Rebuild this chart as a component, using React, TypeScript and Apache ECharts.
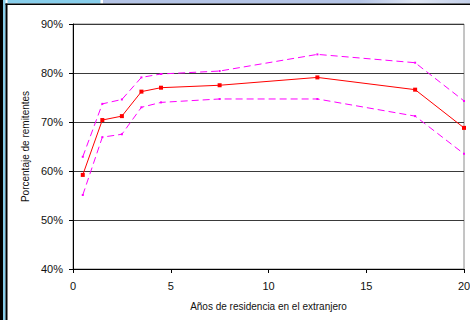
import React, { useEffect, useRef } from "react";
import * as echarts from "echarts";

const years = [0.5, 1.5, 2.5, 3.5, 4.5, 7.5, 12.5, 17.5, 20];
const meanPct = [59.2, 70.4, 71.2, 76.2, 77.0, 77.5, 79.1, 76.6, 68.8];
const upperPct = [62.9, 73.7, 74.6, 79.1, 79.8, 80.4, 83.8, 82.1, 74.3];
const lowerPct = [55.1, 66.9, 67.5, 73.0, 74.0, 74.7, 74.7, 71.2, 63.5];
const yAxisTitle = "Porcentaje de remitentes";
const xAxisTitle = "Años de residencia en el extranjero";

const pairs = (ys: number[]) => years.map((x, i) => [x, ys[i]]);

export default function App() {
  const ref = useRef<HTMLDivElement>(null);
  useEffect(() => {
    if (!ref.current) return;
    const chart = echarts.init(ref.current, null, { renderer: "svg" });
    const font = "Liberation Sans, Arial, sans-serif";
    const dashed = {
      type: "line" as const,
      symbol: "rect",
      symbolSize: 2,
      itemStyle: { color: "#FF00FF" },
      lineStyle: { color: "#FF00FF", width: 1, type: [7, 4] as any },
      z: 2,
    };
    chart.setOption({
      animation: false,
      backgroundColor: "#ffffff",
      textStyle: { fontFamily: font },
      grid: {
        left: 73,
        right: 6,
        top: 24,
        bottom: 51,
        containLabel: false,
        outerBoundsMode: "none",
        show: true,
        borderColor: "#8a8a8a",
        borderWidth: 1,
      },
      xAxis: {
        type: "value",
        min: 0,
        max: 20,
        interval: 5,
        name: xAxisTitle,
        nameLocation: "middle",
        nameGap: 32,
        nameTextStyle: { fontSize: 10, color: "#111", fontFamily: font },
        axisLine: { lineStyle: { color: "#000", width: 1 } },
        axisTick: { show: true, inside: false, length: 4, lineStyle: { color: "#000" } },
        axisLabel: { fontSize: 11, color: "#111", margin: 11, fontFamily: font },
        splitLine: { show: false },
      },
      yAxis: {
        type: "value",
        min: 40,
        max: 90,
        interval: 10,
        name: yAxisTitle,
        nameLocation: "middle",
        nameGap: 33,
        nameTextStyle: { fontSize: 10, color: "#111", fontFamily: font },
        axisLine: { show: true, lineStyle: { color: "#000", width: 1 } },
        axisTick: { show: true, inside: false, length: 4, lineStyle: { color: "#000" } },
        axisLabel: { fontSize: 11, color: "#111", margin: 10, formatter: "{value}%", fontFamily: font },
        splitLine: { show: true, lineStyle: { color: "#3a3a3a", width: 1 } },
      },
      series: [
        { ...dashed, name: "upper", data: pairs(upperPct) },
        { ...dashed, name: "lower", data: pairs(lowerPct) },
        {
          type: "line",
          name: "mean",
          data: pairs(meanPct),
          symbol: "rect",
          symbolSize: 4,
          itemStyle: { color: "#FF0000" },
          lineStyle: { color: "#FF0000", width: 1 },
          z: 3,
        },
      ],
      graphic: [
        { type: "rect", shape: { x: 0, y: 0, width: 3, height: 320 }, style: { fill: "#000" }, silent: true },
        { type: "rect", shape: { x: 3, y: 0, width: 2.5, height: 320 }, style: { fill: "#87CEEB" }, silent: true },
        { type: "rect", shape: { x: 5.5, y: 3.5, width: 2, height: 316.5 }, style: { fill: "#000" }, silent: true },
        { type: "rect", shape: { x: 7.5, y: 0, width: 93, height: 3.5 }, style: { fill: "#87CEEB" }, silent: true },
        {
          type: "rect",
          shape: { x: 103, y: 0, width: 367, height: 3.5 },
          style: {
            fill: new echarts.graphic.LinearGradient(0, 0, 1, 0, [
              { offset: 0, color: "#b4c4e6" },
              { offset: 0.7, color: "#b4c4e6" },
              { offset: 0.85, color: "#dfe6f4" },
              { offset: 1, color: "#c4d0ea" },
            ]),
          },
          silent: true,
        },
        { type: "rect", shape: { x: 5.5, y: 3.5, width: 464.5, height: 1.5 }, style: { fill: "#000" }, silent: true },
      ],
    });
    return () => chart.dispose();
  }, []);
  return (
    <div
      ref={ref}
      style={{ position: "fixed", left: 0, top: 0, width: 470, height: 320, background: "#fff" }}
    />
  );
}
